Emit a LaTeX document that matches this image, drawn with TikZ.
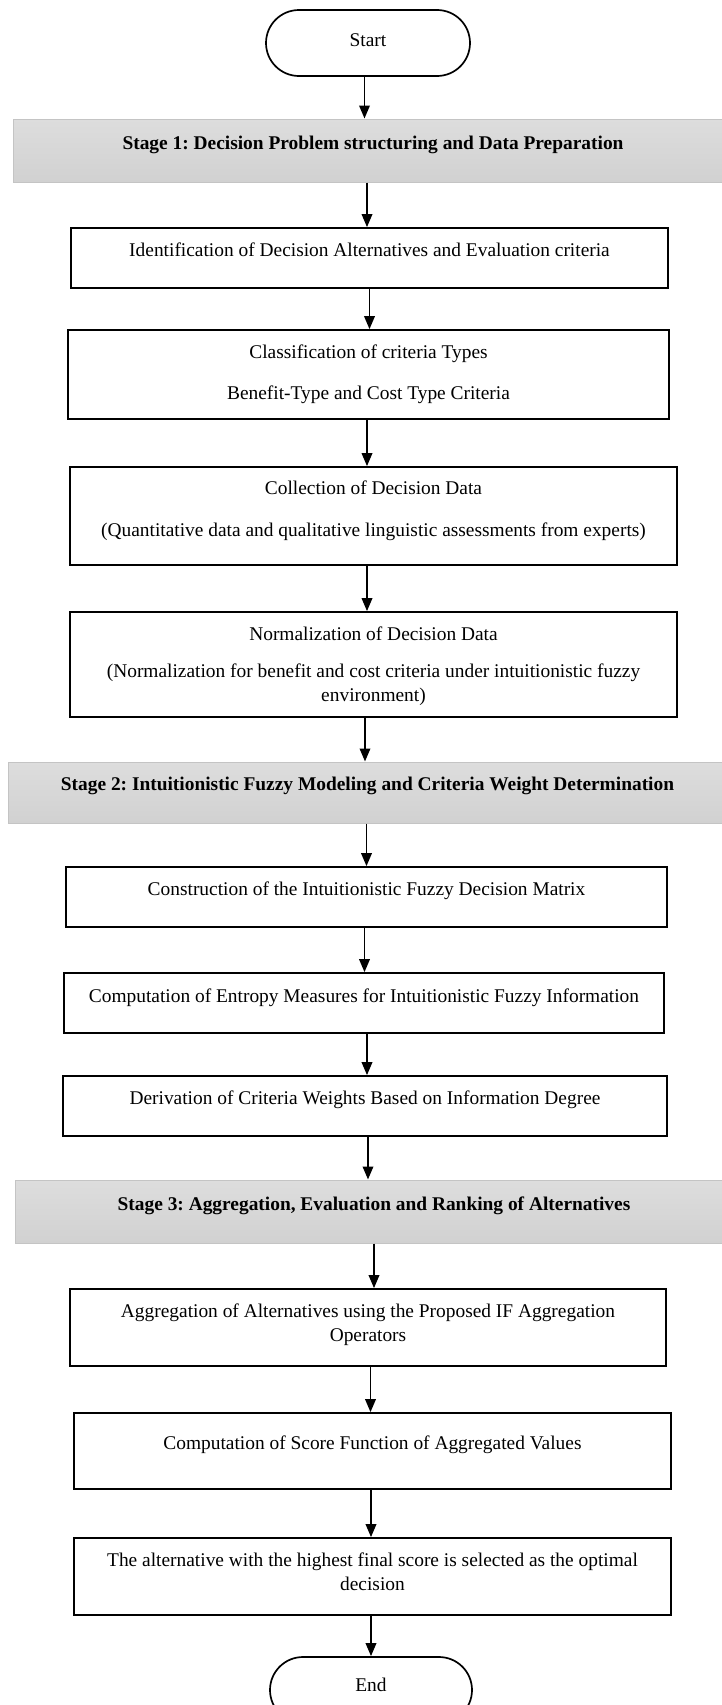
\documentclass[tikz,border=0pt]{standalone}
\usepackage{fontspec}
\setmainfont{Liberation Serif}
\usetikzlibrary{arrows.meta}
\definecolor{stagetop}{RGB}{221,221,221}
\definecolor{stagebot}{RGB}{209,209,209}
\definecolor{stageedge}{RGB}{196,196,196}
\newcommand{\mlines}[1]{\begin{tabular}[t]{@{}c@{}}#1\end{tabular}}
\frenchspacing
\begin{document}
\begin{tikzpicture}[x=1pt,y=-1pt,
  box/.style={draw=black,line width=1.7pt,inner sep=0pt,fill=white},
  term/.style={box,rounded corners=33pt},
  stagebox/.style={draw=stageedge,line width=1pt,top color=stagetop,bottom color=stagebot,inner sep=0pt},
  txt/.style={inner sep=0pt,anchor=base,font=\fontsize{19.4pt}{24.5pt}\selectfont},
  btxt/.style={inner sep=0pt,anchor=base,font=\fontsize{19.4pt}{24.5pt}\selectfont\bfseries},
  arr/.style={line width=1.8pt,-{Triangle[length=13pt,width=10.5pt]}}
]
\useasboundingbox (0,0) rectangle (721,1705);

% shapes
\node[term, minimum width=204pt, minimum height=66pt] (start) at (368,43) {};
\node[stagebox, minimum width=717pt, minimum height=63pt] (s1) at (371.5,150.5) {};
\node[box, minimum width=597pt, minimum height=60pt] (b1) at (369.5,258) {};
\node[box, minimum width=601pt, minimum height=89pt] (b2) at (368.5,374.5) {};
\node[box, minimum width=607pt, minimum height=98pt] (b3) at (373.5,516) {};
\node[box, minimum width=607pt, minimum height=105pt] (b4) at (373.5,664.5) {};
\node[stagebox, minimum width=722pt, minimum height=61pt] (s2) at (369,792.5) {};
\node[box, minimum width=601pt, minimum height=60pt] (b5) at (366.5,897) {};
\node[box, minimum width=600pt, minimum height=60pt] (b6) at (364,1003) {};
\node[box, minimum width=604pt, minimum height=60pt] (b7) at (365,1106) {};
\node[stagebox, minimum width=715pt, minimum height=63pt] (s3) at (372.5,1211.5) {};
\node[box, minimum width=596pt, minimum height=77pt] (b8) at (368,1327.5) {};
\node[box, minimum width=597pt, minimum height=76pt] (b9) at (372.5,1451) {};
\node[box, minimum width=597pt, minimum height=77pt] (b10) at (372.5,1576.5) {};
\node[term, minimum width=202pt, minimum height=66pt] (end) at (371,1690) {};

% texts
\node[txt] (tstart) at (368,46) {Start};
\node[btxt] (ts1) at (373,149) {Stage 1: Decision Problem structuring and Data Preparation};
\node[txt] (tb1) at (369.5,256) {Identification of Decision Alternatives and Evaluation criteria};
\node[txt] (tb2) at (368.5,358) {\mlines{Classification of criteria Types\\[16.5pt] Benefit-Type and Cost Type Criteria}};
\node[txt] (tb3) at (373.5,494) {\mlines{Collection of Decision Data\\[17.5pt] (Quantitative data and qualitative linguistic assessments from experts)}};
\node[txt] (tb4) at (373.5,640) {\mlines{Normalization of Decision Data\\[12.5pt] (Normalization for benefit and cost criteria under intuitionistic fuzzy\\ environment)}};
\node[btxt] (ts2) at (367.5,790) {Stage 2: Intuitionistic Fuzzy Modeling and Criteria Weight Determination};
\node[txt] (tb5) at (366.5,895) {Construction of the Intuitionistic Fuzzy Decision Matrix};
\node[txt] (tb6) at (364,1002) {Computation of Entropy Measures for Intuitionistic Fuzzy Information};
\node[txt] (tb7) at (365,1104) {Derivation of Criteria Weights Based on Information Degree};
\node[btxt] (ts3) at (374,1210) {Stage 3: Aggregation, Evaluation and Ranking of Alternatives};
\node[txt] (tb8) at (368,1317) {\mlines{Aggregation of Alternatives using the Proposed IF Aggregation\\ Operators}};
\node[txt] (tb9) at (372.5,1449) {Computation of Score Function of Aggregated Values};
\node[txt] (tb10) at (372.5,1566) {\mlines{The alternative with the highest final score is selected as the optimal\\ decision}};
\node[txt] (tend) at (371,1691) {End};

% connectors
\draw[arr] ([xshift=-3.5pt]start.south) -- ([xshift=-3.5pt]start.south |- s1.north);
\draw[arr] ([xshift=-2.5pt]b1.north |- s1.south) -- ([xshift=-2.5pt]b1.north);
\draw[arr] (b1.south) -- (b1.south |- b2.north);
\draw[arr] ([xshift=-1.5pt]b2.south) -- ([xshift=-1.5pt]b2.south |- b3.north);
\draw[arr] ([xshift=-6.5pt]b3.south) -- ([xshift=-6.5pt]b3.south |- b4.north);
\draw[arr] ([xshift=-8.5pt]b4.south) -- ([xshift=-8.5pt]b4.south |- s2.north);
\draw[arr] (b5.north |- s2.south) -- (b5.north);
\draw[arr] ([xshift=-2pt]b5.south) -- ([xshift=-2pt]b5.south |- b6.north);
\draw[arr] ([xshift=3pt]b6.south) -- ([xshift=3pt]b6.south |- b7.north);
\draw[arr] ([xshift=3pt]b7.south) -- ([xshift=3pt]b7.south |- s3.north);
\draw[arr] ([xshift=6pt]b8.north |- s3.south) -- ([xshift=6pt]b8.north);
\draw[arr] ([xshift=2.5pt]b8.south) -- ([xshift=2.5pt]b8.south |- b9.north);
\draw[arr] ([xshift=-1.5pt]b9.south) -- ([xshift=-1.5pt]b9.south |- b10.north);
\draw[arr] ([xshift=-1.5pt]b10.south) -- ([xshift=-1.5pt]b10.south |- end.north);
\end{tikzpicture}
\end{document}
